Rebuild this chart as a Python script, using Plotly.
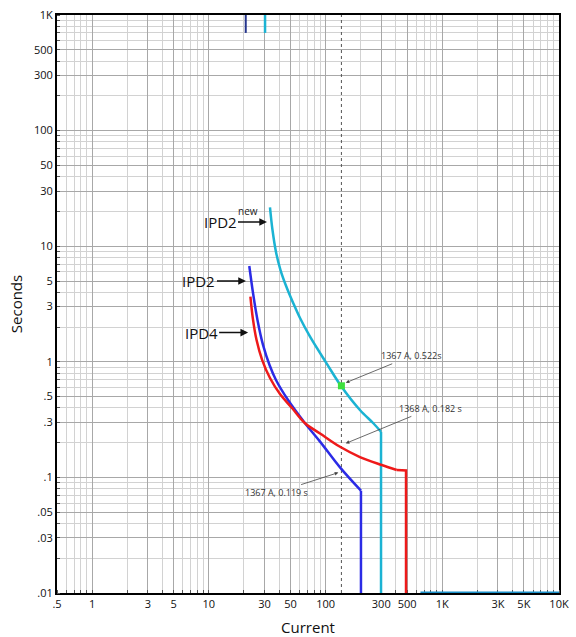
import numpy as np
import plotly.graph_objects as go

# ---- data (current in display units, time in seconds) ----
ipd2new_current = [33.4, 35.1, 37.6, 41.1, 45.9, 52.9, 60.4, 73.6, 102, 135.7, 197, 256.6, 298.6, 298.6]
ipd2new_seconds = [21.7, 13.8, 8.91, 6.22, 4.53, 3.21, 2.39, 1.65, 0.97, 0.618, 0.383, 0.294, 0.248, 0.01]

ipd2_current = [22.2, 23.9, 26.1, 29.1, 33.1, 37.6, 47.7, 66.7, 89.7, 133, 201, 201]
ipd2_seconds = [6.74, 3.94, 2.30, 1.40, 0.938, 0.696, 0.467, 0.294, 0.204, 0.122, 0.0767, 0.01]

ipd4_current = [22.7, 23.8, 25.6, 28.6, 33.4, 40.7, 51.6, 66.7, 89.7, 133, 197, 303, 407, 489, 489]
ipd4_seconds = [3.66, 2.39, 1.55, 1.04, 0.724, 0.526, 0.398, 0.294, 0.240, 0.184, 0.150, 0.128, 0.116, 0.115, 0.01]

ipd2_top_current = [20.7, 20.7]
ipd2new_top_current = [30.3, 30.3]
top_seconds = [700, 1000]

ipd2new_tail_current = [650, 10000]
ipd2new_tail_seconds = [0.01, 0.01]

marker_current = [136.7]
marker_seconds = [0.62]
ref_line_current = [136.7, 136.7]
ref_line_seconds = [0.01, 1000]

x_tickvals = [0.5, 1, 3, 5, 10, 30, 50, 100, 300, 500, 1000, 3000, 5000, 10000]
x_ticktext = [".5", "1", "3", "5", "10", "30", "50", "100", "300", "500", "1K", "3K", "5K", "10K"]
y_tickvals = [0.01, 0.03, 0.05, 0.1, 0.3, 0.5, 1, 3, 5, 10, 30, 50, 100, 300, 500, 1000]
y_ticktext = [".01", ".03", ".05", ".1", ".3", ".5", "1", "3", "5", "10", "30", "50", "100", "300", "500", "1K"]

CYAN = "#1bb3d3"
BLUE = "#2b2be6"
RED = "#ee1a1a"
NAVY = "#24348c"

fig = go.Figure()

# reference dotted line
fig.add_trace(go.Scatter(x=ref_line_current, y=ref_line_seconds, mode="lines",
                         line=dict(color="#555555", width=1, dash="dot"), hoverinfo="skip"))

# IPD2 new (cyan)
fig.add_trace(go.Scatter(x=ipd2new_current[:-1], y=ipd2new_seconds[:-1], mode="lines",
                         line=dict(color=CYAN, width=2.5, shape="spline", smoothing=1.0)))
fig.add_trace(go.Scatter(x=ipd2new_current[-2:], y=ipd2new_seconds[-2:], mode="lines",
                         line=dict(color=CYAN, width=2.5)))
fig.add_trace(go.Scatter(x=ipd2new_top_current, y=top_seconds, mode="lines",
                         line=dict(color=CYAN, width=2.5)))
fig.add_trace(go.Scatter(x=ipd2new_tail_current, y=ipd2new_tail_seconds, mode="lines",
                         line=dict(color="#1a8fc8", width=3)))

# IPD2 (blue)
fig.add_trace(go.Scatter(x=ipd2_current[:-1], y=ipd2_seconds[:-1], mode="lines",
                         line=dict(color=BLUE, width=2.5, shape="spline", smoothing=1.0)))
fig.add_trace(go.Scatter(x=ipd2_current[-2:], y=ipd2_seconds[-2:], mode="lines",
                         line=dict(color=BLUE, width=2.5)))
fig.add_trace(go.Scatter(x=ipd2_top_current, y=top_seconds, mode="lines",
                         line=dict(color=NAVY, width=2)))

# IPD4 (red)
fig.add_trace(go.Scatter(x=ipd4_current[:-2], y=ipd4_seconds[:-2], mode="lines",
                         line=dict(color=RED, width=2.5, shape="spline", smoothing=1.0)))
fig.add_trace(go.Scatter(x=ipd4_current[-3:], y=ipd4_seconds[-3:], mode="lines",
                         line=dict(color=RED, width=2.5)))

# green marker
fig.add_trace(go.Scatter(x=marker_current, y=marker_seconds, mode="markers",
                         marker=dict(symbol="square", color="#3ee03e", size=7)))

L = np.log10
annos = []
big = dict(family="Open Sans, sans-serif", size=15, color="#111111")
annos.append(dict(x=L(31.5), y=L(16.2), ax=-47, ay=0, text="IPD2", font=big,
                  showarrow=True, arrowhead=2, arrowsize=1.1, arrowwidth=1.4, arrowcolor="#111"))
annos.append(dict(x=L(21.7), y=L(20.1), text="new", showarrow=False,
                  font=dict(family="Open Sans, sans-serif", size=10, color="#222")))
annos.append(dict(x=L(20.8), y=L(5.0), ax=-47, ay=0, text="IPD2", font=big,
                  showarrow=True, arrowhead=2, arrowsize=1.1, arrowwidth=1.4, arrowcolor="#111"))
annos.append(dict(x=L(21.7), y=L(1.79), ax=-47, ay=0, text="IPD4", font=big,
                  showarrow=True, arrowhead=2, arrowsize=1.1, arrowwidth=1.4, arrowcolor="#111"))
small = dict(family="Open Sans, sans-serif", size=9, color="#333333")
annos.append(dict(x=L(149), y=L(0.659), ax=66, ay=-27, text="1367 A, 0.522s", font=small,
                  showarrow=True, arrowhead=2, arrowsize=0.9, arrowwidth=0.8, arrowcolor="#444"))
annos.append(dict(x=L(149), y=L(0.197), ax=85, ay=-35, text="1368 A, 0.182 s", font=small,
                  showarrow=True, arrowhead=2, arrowsize=0.9, arrowwidth=0.8, arrowcolor="#444"))
annos.append(dict(x=L(128.6), y=L(0.11), ax=-62, ay=20, text="1367 A, 0.119 s", font=small,
                  showarrow=True, arrowhead=2, arrowsize=0.9, arrowwidth=0.8, arrowcolor="#444"))

tickfont = dict(family="Open Sans, sans-serif", size=11, color="#111111")
axis_common = dict(type="log", showline=True, linewidth=2, linecolor="black", mirror=True,
                   showgrid=True, gridcolor="#a8a8a8", gridwidth=1, zeroline=False,
                   tickfont=tickfont, ticks="", layer="below traces", automargin=False,
                   minor=dict(dtick="D1", showgrid=True, gridcolor="#d2d2d2", gridwidth=1,
                              ticks="inside", ticklen=3, tickcolor="#555"))

fig.update_layout(
    width=576, height=637,
    margin=dict(l=57, r=17, t=15, b=44),
    paper_bgcolor="white", plot_bgcolor="white",
    showlegend=False,
    annotations=annos,
    xaxis=dict(axis_common, range=[L(0.5), 4], tickvals=x_tickvals, ticktext=x_ticktext,
               title=dict(text="Current", font=dict(family="Open Sans, sans-serif", size=15, color="#111"),
                          standoff=14)),
    yaxis=dict(axis_common, range=[-2, 3], tickvals=y_tickvals, ticktext=y_ticktext,
               title=dict(text="Seconds", font=dict(family="Open Sans, sans-serif", size=15, color="#111"),
                          standoff=8)),
)

fig.write_html("out.html")
